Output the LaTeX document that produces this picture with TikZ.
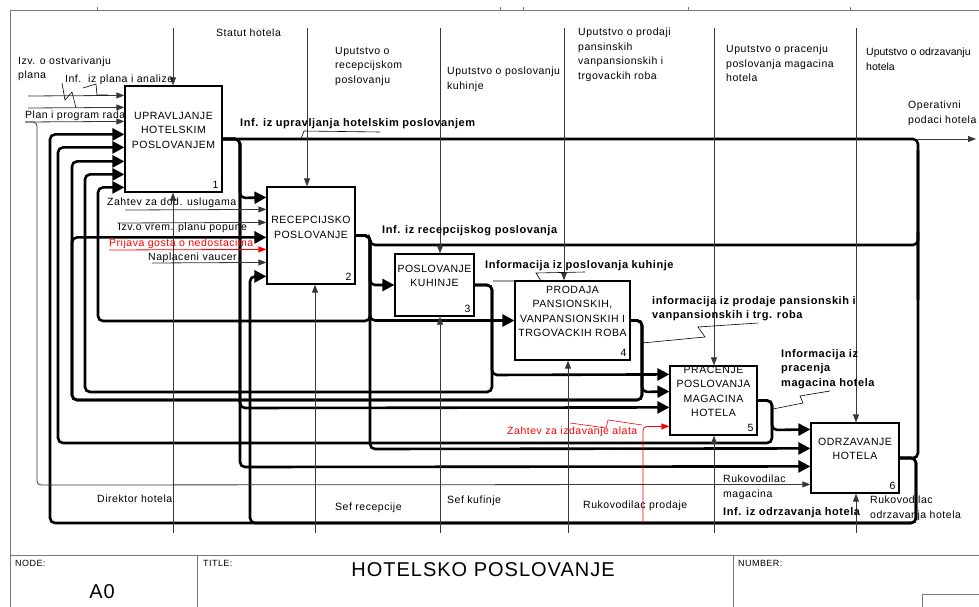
\documentclass[tikz,border=0pt]{standalone}
\usepackage{fontspec}
\setmainfont{Liberation Sans}[LetterSpace=5]
\usepackage{xcolor}
\definecolor{framegray}{RGB}{120,120,120}
\definecolor{wiregray}{RGB}{55,55,55}
\definecolor{alertred}{RGB}{255,0,0}
\usetikzlibrary{arrows.meta}

\tikzset{
  actbox/.style={draw, line width=1.2pt, fill=white, inner sep=0pt},
  acttext/.style={align=center, inner sep=0pt, font=\fontsize{10.5}{14.5}\selectfont},
  actnum/.style={anchor=south east, inner sep=4pt, font=\fontsize{10.5}{12}\selectfont},
  flow/.style={line width=2.6pt, rounded corners=5pt, -{Triangle[length=12pt,width=12pt]}},
  bus/.style={line width=2.6pt, rounded corners=5pt},
  feed/.style={line width=0.8pt, draw=wiregray, rounded corners=4pt, -{Triangle[length=8pt,width=6pt]}},
  redfeed/.style={feed, draw=alertred},
  frame/.style={line width=0.8pt, draw=framegray},
  squig/.style={line width=0.6pt},
  note/.style={anchor=west, inner sep=0pt, align=left, font=\fontsize{10.5}{14.5}\selectfont},
  mnote/.style={note, anchor=north west},
  bnote/.style={note, font=\fontsize{11}{14.5}\selectfont\bfseries},
  mbnote/.style={bnote, anchor=north west},
}

\begin{document}
\begin{tikzpicture}[x=1pt, y=-1pt]
\useasboundingbox (0,0) rectangle (979,607);

% sheet frame and title block
\draw[frame] (10,607) -- (10,10) -- (979,10);
\foreach \tx in {97,500,523,688,850}
  \draw[frame] (\tx,7) -- (\tx,10);
\draw[frame] (10,555) -- (979,555);
\draw[frame] (197,555) -- (197,607);
\draw[frame] (733,555) -- (733,607);
\draw[frame] (922,607) -- (922,594) -- (979,594);
\node[note, font=\fontsize{9}{10}\selectfont] (nodelbl) at (15,563) {NODE:};
\node[font=\fontsize{20}{22}\selectfont, inner sep=0pt] (nodeno) at (102,592) {A0};
\node[note, font=\fontsize{9}{10}\selectfont] (titlelbl) at (203,563) {TITLE:};
\node[font=\fontsize{20}{22}\selectfont, inner sep=0pt] (title) at (483,570) {HOTELSKO POSLOVANJE};
\node[note, font=\fontsize{9}{10}\selectfont] (numlbl) at (738,563) {NUMBER:};

% activities
\node[actbox, minimum width=97pt, minimum height=106pt] (b1) at (173.5,139) {};
\node[actbox, minimum width=88pt, minimum height=97pt] (b2) at (311,235.5) {};
\node[actbox, minimum width=79pt, minimum height=62pt] (b3) at (434.5,285) {};
\node[actbox, minimum width=115pt, minimum height=79pt] (b4) at (572.5,320.5) {};
\node[actbox, minimum width=87pt, minimum height=69pt] (b5) at (713.5,400.5) {};
\node[actbox, minimum width=88pt, minimum height=70pt] (b6) at (855,458) {};

\node[acttext] (b1t) at ([yshift=9pt]b1.center) {UPRAVLJANJE\\HOTELSKIM\\POSLOVANJEM};
\node[acttext] (b2t) at ([yshift=8pt]b2.center) {RECEPCIJSKO\\POSLOVANJE};
\node[acttext] (b3t) at ([yshift=9pt]b3.center) {POSLOVANJE\\KUHINJE};
\node[acttext] (b4t) at ([yshift=9pt]b4.center) {PRODAJA\\PANSIONSKIH,\\VANPANSIONSKIH I\\TRGOVACKIH ROBA};
\node[acttext] (b5t) at ([yshift=9pt]b5.center) {PRACENJE\\POSLOVANJA\\MAGACINA\\HOTELA};
\node[acttext] (b6t) at ([yshift=9pt]b6.center) {ODRZAVANJE\\HOTELA};
\foreach \n in {1,...,6}
  \node[actnum] (b\n n) at (b\n.south east) {\n};

% thick flows between activities
\draw[bus] (b1.east) -| (918,300);
\draw[bus] (b6.east) -| (918,150);
\draw[flow] (b1.east) -| (240,198) -- ([yshift=-11pt]b2.north west);
\draw[flow] (b1.east) -| (240,408) -- ([yshift=-42pt]b5.north west);
\draw[flow] (b1.east) -| (240,467) -- ([yshift=-44pt]b6.north west);

\draw[bus] (b2.east) -| (370,245) -- (918,245) -- (918,232);
\draw[flow] (b2.east) -| (370,285) -- (b3.west);
\draw[flow] (b2.east) -| (370,320.5) -- (b4.west);
\draw[flow] (b2.east) -| (370,321) -- (98,321) |- ([yshift=-102pt]b1.north west);
\draw[flow] (b2.east) -| (370,449) -- ([yshift=-26pt]b6.north west);

\draw[flow] (b3.east) -| (492,375) -- ([yshift=-9pt]b5.north west);
\draw[flow] (b3.east) -| (492,392) -- (85,392) |- ([yshift=-89pt]b1.north west);

\draw[flow] (b4.east) -| (642,392) -- ([yshift=-26pt]b5.north west);
\draw[flow] (b4.east) -| (642,400) -- (72,400) |- ([yshift=-76pt]b1.north west);
\draw[flow] (b4.east) -| (642,400) -- (72,400) |- ([yshift=-51pt]b2.north west);

\draw[flow] (b5.east) -| (772,430) -- ([yshift=-7pt]b6.north west);
\draw[flow] (b5.east) -| (772,443) -- (58,443) |- ([yshift=-62pt]b1.north west);

\draw[flow] (b6.east) -| (916,523) -- (50,523) |- ([yshift=-49pt]b1.north west);
\draw[flow] (b6.east) -| (916,523) -- (250,523) |- ([yshift=-90pt]b2.north west);
\coordinate (tap) at (643,523);
\draw[redfeed] (tap) |- ([yshift=-61pt]b5.north west);

\coordinate (outp) at (976,139);
\draw[feed] (918,139) -- (outp);

% external inputs
\coordinate (in1) at (28,96);
\coordinate (in2) at (28,108);
\coordinate (in3) at (25,122);
\draw[feed] (in1) -- ([yshift=-10pt]b1.north west);
\draw[feed] (in2) -- ([yshift=-22pt]b1.north west);
\draw[feed] (in3) -- ([yshift=-36pt]b1.north west);
\draw[feed] (in3) -- (37,122) -- (37,485) -- ([yshift=-62pt]b6.north west);

\coordinate (in4) at (125,210);
\coordinate (in5) at (117,223);
\coordinate (in6) at (109,250);
\coordinate (in7) at (152,263);
\draw[feed] (in4) -- ([yshift=-23pt]b2.north west);
\draw[feed] (in5) -- ([yshift=-36pt]b2.north west);
\draw[redfeed] (in6) -- ([yshift=-63pt]b2.north west);
\draw[feed] (in7) -- ([yshift=-76pt]b2.north west);

% controls from above, mechanisms from below
\foreach \n/\cx in {1/173,2/307,3/440,4/564,5/714,6/856}
  \coordinate (c\n) at (\cx,28);
\foreach \n/\mx in {1/173,2/315,3/440,4/568,5/714,6/856}
  \coordinate (m\n) at (\mx,533);
\foreach \n in {1,...,6} {
  \draw[feed] (c\n) -- (c\n |- b\n.north);
  \draw[feed] (m\n) -- (m\n |- b\n.south);
}

% labels
\node[note] (statut) at (216,33) {Statut hotela};
\node[mnote] (uprec) at (335,47) {Uputstvo o\\recepcijskom\\poslovanju};
\node[mnote] (upkuh) at (447,67) {Uputstvo o poslovanju\\kuhinje};
\node[mnote] (upprod) at (578,28) {Uputstvo o prodaji\\pansinskih\\vanpansionskih i\\trgovackih roba};
\node[mnote] (upprac) at (726,45) {Uputstvo o pracenju\\poslovanja magacina\\hotela};
\node[mnote, font=\fontsize{10.5}{14.5}\selectfont\addfontfeature{LetterSpace=0}] (upodr) at (866,48) {Uputstvo o odrzavanju\\hotela};
\node[mnote] (operat) at (908,101) {Operativni\\podaci hotela};

\node[mnote, font=\fontsize{10.5}{13.5}\selectfont] (izvplan) at (18,57) {Izv. o ostvarivanju\\plana};
\node[note] (infplan) at (65,80) {Inf.\ \ iz plana i analize};
\node[note] (planrad) at (25,116) {Plan i program rada};
\node[note] (zahdod) at (107,203) {Zahtev za dod. uslugama};
\node[note] (izvvrem) at (118,228) {Izv.o vrem. planu popune};
\node[note, text=alertred] (prijava) at (109,244) {Prijava gosta o nedostacima};
\node[note] (naplac) at (148,258) {Naplaceni vaucer};

\node[bnote] (infupr) at (240,124) {Inf. iz upravljanja hotelskim poslovanjem};
\node[bnote] (infrec) at (382,231) {Inf. iz recepcijskog poslovanja};
\node[bnote] (infkuh) at (485,266) {Informacija iz poslovanja kuhinje};
\node[mbnote] (infprod) at (652,296) {informacija iz prodaje pansionskih i\\vanpansionskih i trg. roba};
\node[mbnote] (infprac) at (781,349) {Informacija iz\\pracenja\\magacina hotela};
\node[note, text=alertred] (zahalat) at (507,432) {Zahtev za izdavanje alata};
\node[bnote] (infodr) at (723,513) {Inf. iz odrzavanja hotela};

\node[note] (direktor) at (97,499) {Direktor hotela};
\node[note] (sefrec) at (335,508) {Sef recepcije};
\node[note] (sefkuh) at (447,501) {Sef kufinje};
\node[note] (rukprod) at (583,506) {Rukovodilac prodaje};
\node[mnote] (rukmag) at (723,475) {Rukovodilac\\magacina};
\node[mnote] (rukodr) at (870,496) {Rukovodilac\\odrzavanja hotela};

% squiggles tying labels to their arrows
\draw[squig] (62,83) -- (65,100) -- (72,92) -- (76,108);
\draw[squig] (83,88) -- (96,84) -- (97,95) -- (108,95);
\draw[squig] (301,139) -- (304,131) -- (380,132);
\draw[squig] (493,281) -- (541,281) -- (536,273) -- (585,272);
\draw[squig] (642,343) -- (705,337) -- (698,327) -- (758,323);
\draw[squig] (773,409) -- (803,403) -- (800,396) -- (830,391);
\draw[squig, draw=alertred] (570,423) -- (606,428) -- (608,420) -- (642,425);
\end{tikzpicture}
\end{document}
